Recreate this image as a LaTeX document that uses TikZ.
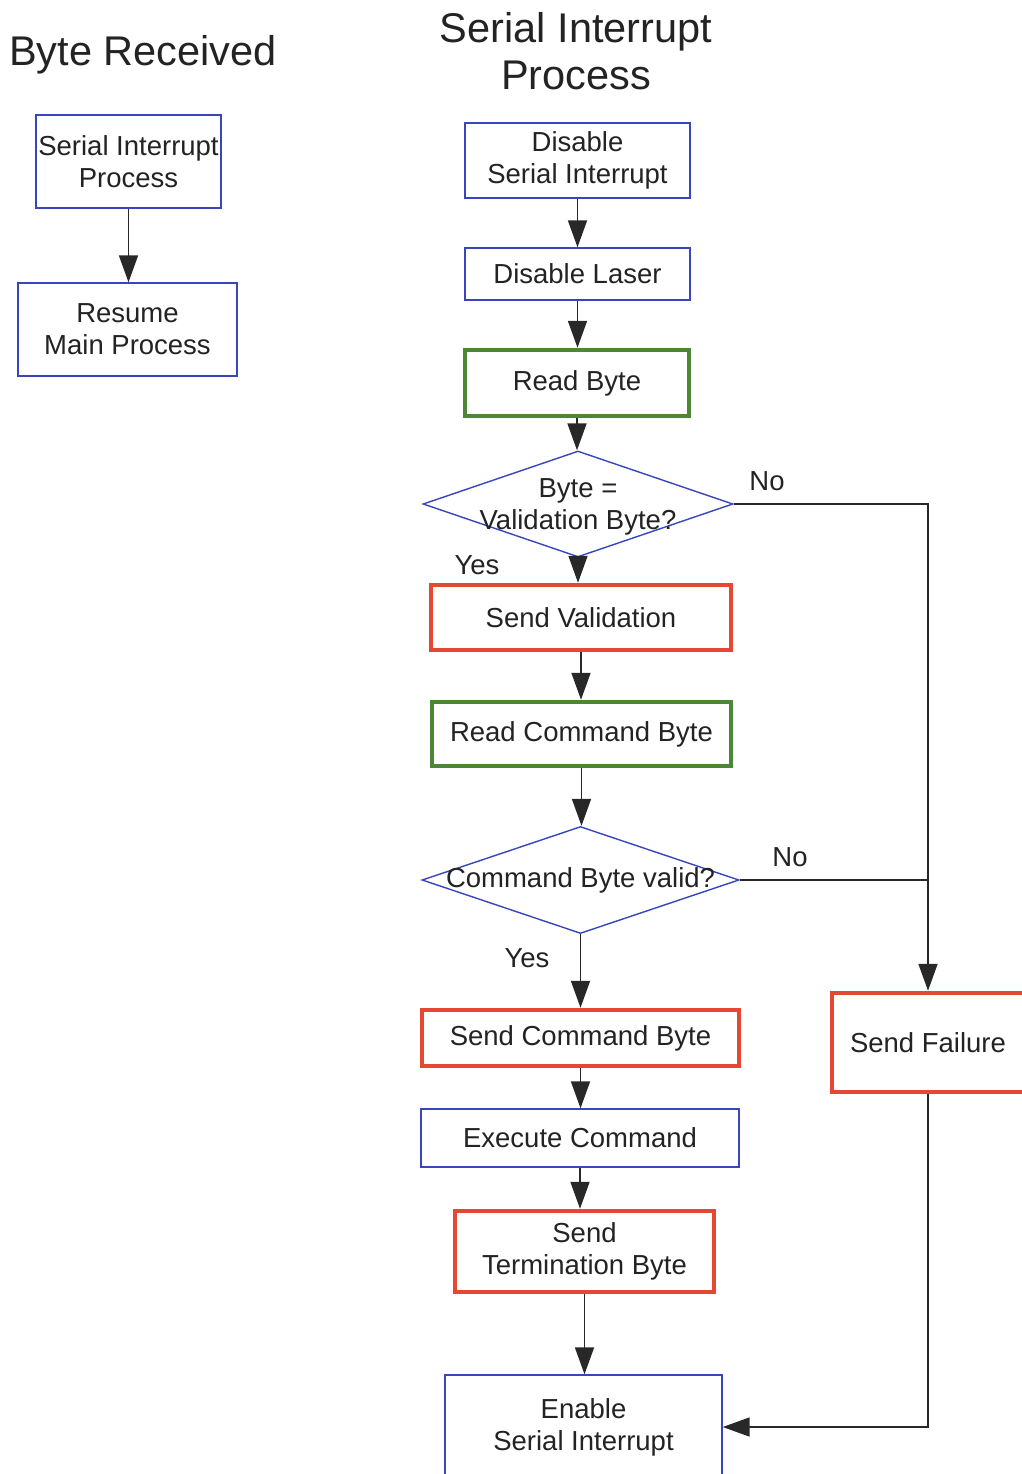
\documentclass[tikz,border=0pt]{standalone}
\usepackage{fontspec}
\setmainfont{Liberation Sans}
\usetikzlibrary{arrows.meta,shapes.geometric}
\definecolor{boxblue}{RGB}{55,70,190}
\definecolor{boxgreen}{RGB}{75,135,55}
\definecolor{boxred}{RGB}{228,72,50}
\definecolor{ink}{RGB}{35,35,35}
\definecolor{linegray}{RGB}{40,40,40}
\begin{document}
\begin{tikzpicture}[x=1pt,y=-1pt,
  every node/.style={text=ink, font=\fontsize{27.5}{32}\selectfont, align=center, inner sep=0pt},
  plain/.style={draw=boxblue, line width=1.4pt, rectangle},
  keybox/.style={draw=boxgreen, line width=4.5pt, rectangle},
  sendbox/.style={draw=boxred, line width=4.5pt, rectangle},
  decision/.style={draw=boxblue, line width=1.4pt, diamond, aspect=1},
  heading/.style={font=\fontsize{41.5}{47}\selectfont},
  flow/.style={draw=linegray, line width=1.8pt, -{Triangle[length=27pt,width=19pt]}},
  link/.style={draw=linegray, line width=1.8pt}]

\fill[white] (0,0) rectangle (1021,1474);
\useasboundingbox (0,0) rectangle (1021,1474);

% headings
\node[heading] (hleft) at (143,55) {Byte Received};
\node[heading] (hright) at (576,51) {Serial Interrupt\\Process};

% left column
\node[plain, minimum width=185pt, minimum height=93pt] (sip) at (128.5,161.5) {Serial Interrupt\\Process};
\node[plain, minimum width=219pt, minimum height=93pt] (resume) at (127.5,329.5) {Resume\\Main Process};

% main column
\node[plain, minimum width=225pt, minimum height=75pt] (dsi) at (577.5,160.5) {Disable\\Serial Interrupt};
\node[plain, minimum width=225pt, minimum height=52pt] (dl) at (577.5,274) {Disable Laser};
\node[keybox, minimum width=224pt, minimum height=66pt] (rb) at (577,383) {Read Byte};
\node[decision, minimum width=310pt, minimum height=106pt,
      label={[align=center,name=d1text,yshift=-3pt]center:Byte =\\Validation Byte?}] (d1) at (578,504) {};
\node[sendbox, minimum width=300pt, minimum height=65pt] (sv) at (581,617.5) {Send Validation};
\node[keybox, minimum width=299pt, minimum height=64pt] (rcb) at (581.5,734) {Read Command Byte};
\node[decision, minimum width=317pt, minimum height=107pt,
      label={[name=d2text]center:Command Byte valid?}] (d2) at (580.5,880) {};
\node[sendbox, minimum width=317pt, minimum height=56pt] (scb) at (580.5,1038) {Send Command Byte};
\node[plain, minimum width=318pt, minimum height=58pt] (ec) at (580,1138) {Execute Command};
\node[sendbox, minimum width=259pt, minimum height=81pt] (stb) at (584.5,1251.5) {Send\\Termination Byte};
% the last box runs on past the lower edge of the page
\node[plain, minimum width=277pt, minimum height=112pt,
      label={[align=center,name=esitext,yshift=4pt]center:Enable\\Serial Interrupt}] (esi) at (583.5,1431) {};
\node[sendbox, minimum width=192pt, minimum height=99pt] (sf) at (928,1042.5) {Send Failure};

% branch labels
\node (no1) at (767,481) {No};
\node (no2) at (790,857) {No};
\node (yes1) at (477,565) {Yes};
\node (yes2) at (527,958) {Yes};

% connectors
\draw[flow] (sip.south) -- (sip.south |- resume.north);
\draw[flow] (dsi.south) -- (dsi.south |- dl.north);
\draw[flow] (dl.south) -- (dl.south |- rb.north);
\draw[flow] (rb.south) -- (rb.south |- d1.north);
\draw[flow] (d1.south) -- (d1.south |- sv.north);
\draw[flow] (sv.south) -- (sv.south |- rcb.north);
\draw[flow] (rcb.south) -- (rcb.south |- d2.north);
\draw[flow] (d2.south) -- (d2.south |- scb.north);
\draw[flow] (scb.south) -- (scb.south |- ec.north);
\draw[flow] (ec.south) -- (ec.south |- stb.north);
\draw[flow] (stb.south) -- (stb.south |- esi.north);
\draw[flow] (d1.east) -| (sf.north);
\draw[link] (d2.east) -- (d2.east -| sf.north);
\draw[flow] (sf.south) |- (esitext.east -| esi.east);
\end{tikzpicture}
\end{document}
